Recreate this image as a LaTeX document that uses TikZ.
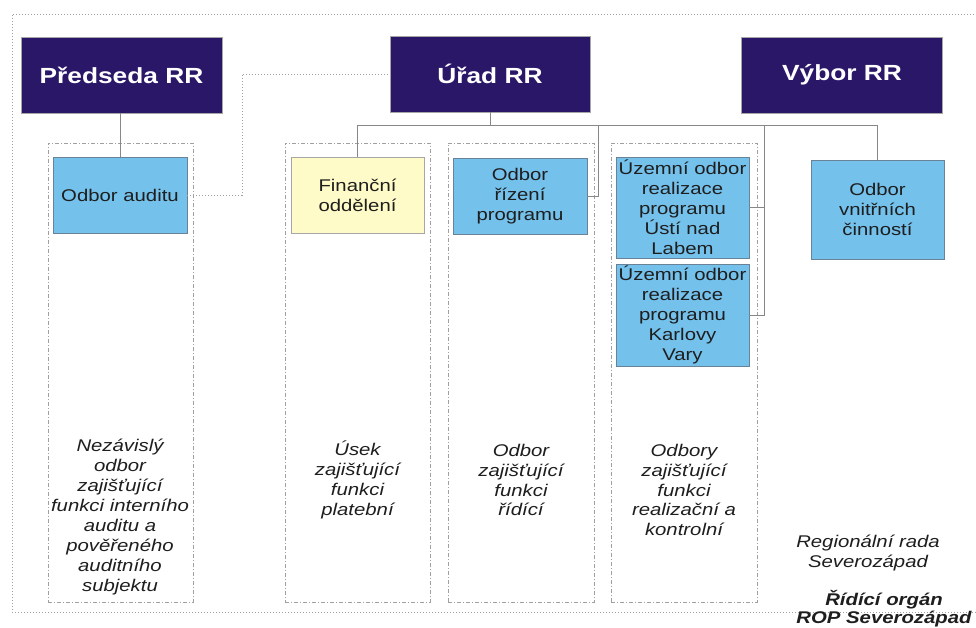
\documentclass[tikz,border=0pt]{standalone}
\usepackage{fontspec}
\setmainfont{Liberation Sans}[FakeStretch=1.2]
\definecolor{navy}{RGB}{42,23,104}
\definecolor{lblue}{RGB}{116,193,236}
\definecolor{lyellow}{RGB}{255,251,200}
\definecolor{lngray}{RGB}{135,135,135}
\definecolor{frgray}{RGB}{160,160,160}
\definecolor{bxgray}{RGB}{105,130,150}
\definecolor{txt}{RGB}{30,30,30}
\begin{document}
\begin{tikzpicture}[x=1bp,y=-1bp,
  head/.style={fill=navy,draw=gray!70,line width=0.6bp,text=white,font=\bfseries\fontsize{22}{26}\selectfont,minimum width=201bp,minimum height=76bp,inner sep=0},
  unit/.style={fill=lblue,draw=bxgray,line width=0.7bp,text=txt,font=\fontsize{17}{20}\selectfont,align=center,inner sep=0,minimum width=133bp},
  finunit/.style={unit,fill=lyellow,draw=gray!70},
  colframe/.style={draw=frgray,line width=0.6bp,dash pattern=on 4bp off 2bp on 1bp off 2bp,inner sep=0},
  conn/.style={draw=lngray,line width=0.8bp},
  dotconn/.style={draw=frgray,line width=0.8bp,dash pattern=on 1bp off 2bp},
  note/.style={text=txt,font=\itshape\fontsize{17}{20}\selectfont,align=center,inner sep=0}
]
\useasboundingbox[fill=white] (0,0) rectangle (976,628);
% outer dotted frame
\draw[dotconn,line width=0.7bp] (980,14) -- (12,14) -- (12,612) -- (980,612);
% column frames
\node[colframe,minimum width=145bp,minimum height=459bp] (col1) at (120.5,372.5) {};
\node[colframe,minimum width=145bp,minimum height=459bp] (col2) at (357.5,372.5) {};
\node[colframe,minimum width=146bp,minimum height=459bp] (col3) at (521,372.5) {};
\node[colframe,minimum width=146bp,minimum height=459bp] (col4) at (684,372.5) {};
% heads
\node[head] (pred) at (121.5,75) {Předseda RR};
\node[head,minimum width=200bp] (urad) at (490,74) {Úřad RR};
\node[head] (vybor) at (842,75) {Výbor RR};
% units
\node[unit,minimum width=134bp,minimum height=76bp] (audit) at (120,195) {Odbor auditu};
\node[finunit,minimum height=76bp] (fin) at (357.5,195) {Finanční\\oddělení};
\node[unit,minimum width=134bp,minimum height=76bp] (rizeni) at (520,196) {Odbor\\řízení\\programu};
\node[unit,minimum height=101bp] (usti) at (682.5,207.5) {Územní odbor\\realizace\\programu\\Ústí nad\\Labem};
\node[unit,minimum height=102bp] (kv) at (682.5,315) {Územní odbor\\realizace\\programu\\Karlovy\\Vary};
\node[unit,minimum height=99bp] (vnit) at (877.5,209.5) {Odbor\\vnitřních\\činností};
% connector coordinates
\coordinate (dj) at (242,74);
\coordinate (bus) at (490,125);
\coordinate (b2) at (598,125);
\coordinate (b3) at (764,125);
% connectors
\draw[conn] (audit.north) -- (audit.north |- pred.south);
\draw[dotconn] (audit.east) -| (dj) -- (urad.west);
\draw[conn] (urad.south) -- (bus);
\draw[conn] (fin.north) |- (vnit.north |- bus) -- (vnit.north);
\draw[conn] (rizeni.east) -| (b2);
\draw[conn] (usti.east) -| (b3);
\draw[conn] (kv.east) -| (b3);
% column notes
\node[note] (n1) at (120,517) {Nezávislý\\odbor\\zajišťující\\funkci interního\\auditu a\\pověřeného\\auditního\\subjektu};
\node[note] (n2) at (357.5,480) {Úsek\\zajišťující\\funkci\\platební};
\node[note] (n3) at (521,480) {Odbor\\zajišťující\\funkci\\řídící};
\node[note] (n4) at (684,490) {Odbory\\zajišťující\\funkci\\realizační a\\kontrolní};
% bottom right
\node[note] (rr) at (868,553) {Regionální rada\\Severozápad};
\node[note,font=\bfseries\itshape\fontsize{17}{18}\selectfont] (ro) at (884,609) {Řídící orgán\\ROP Severozápad};
\end{tikzpicture}
\end{document}
